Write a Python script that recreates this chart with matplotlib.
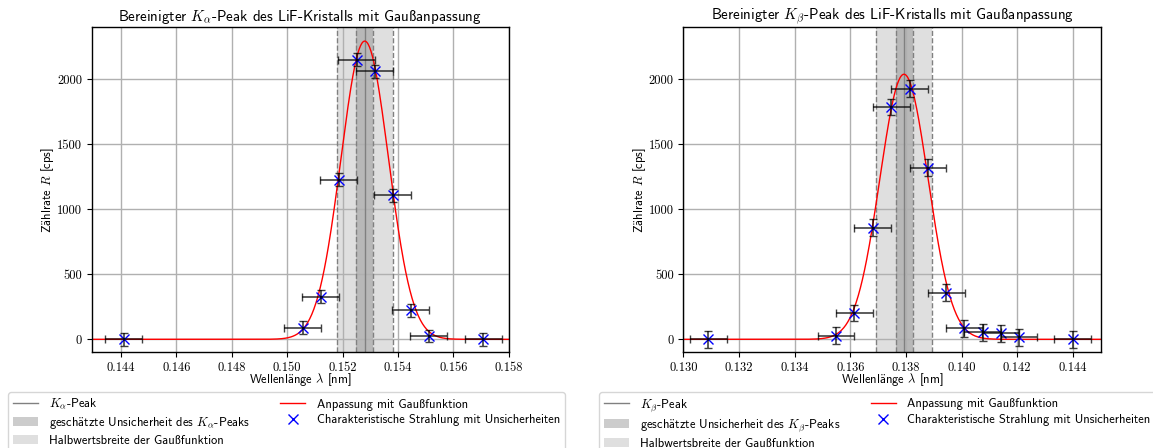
import numpy as np
import matplotlib
matplotlib.use("Agg")
import matplotlib.pyplot as plt

plt.rcParams.update({
    "font.family": ["cmss10", "DejaVu Sans"],
    "mathtext.fontset": "cm",
    "axes.unicode_minus": False,
    "axes.linewidth": 1.0,
})

# cmss10 is TeX-encoded: sharp s sits at 0xBC, umlauts go through mathtext
SS = chr(0xBC)
AE = r"$\ddot{\mathsf{a}}$"

# K-alpha peak (left)
ka_lam = [0.14410, 0.15056, 0.15121, 0.15186, 0.15251, 0.15316, 0.15381, 0.15446, 0.15511, 0.15708]
ka_rate = [0, 90, 329, 1230, 2152, 2062, 1109, 223, 25, 0]
ka_lam_err = [0.00066] * len(ka_lam)
ka_rate_err = [49] * len(ka_lam)
ka_fit = (2295, 0.15280, 0.000858)      # amplitude, centre, sigma
ka_peak = 0.15280
ka_peak_unc = (0.15249, 0.15311)
ka_fwhm = (0.15180, 0.15382)
ka_xlim = (0.14295, 0.158)
ka_xticks = [0.144, 0.146, 0.148, 0.150, 0.152, 0.154, 0.156, 0.158]

# K-beta peak (right)
kb_lam = [0.13089, 0.13549, 0.13615, 0.13681, 0.13747, 0.13813, 0.13879, 0.13945,
          0.14010, 0.14076, 0.14141, 0.14207, 0.14400]
kb_rate = [0, 28, 203, 860, 1788, 1929, 1320, 360, 85, 54, 46, 15, 0]
kb_lam_err = [0.00066] * len(kb_lam)
kb_rate_err = [64] * len(kb_lam)
kb_fit = (2040, 0.13793, 0.000866)
kb_peak = 0.13792
kb_peak_unc = (0.13763, 0.13825)
kb_fwhm = (0.13691, 0.13895)
kb_xlim = (0.130, 0.145)
kb_xticks = [0.130, 0.132, 0.134, 0.136, 0.138, 0.140, 0.142, 0.144]

YLIM = (-95, 2400)
YTICKS = [0, 500, 1000, 1500, 2000]


def gauss(x, a, mu, sig):
    return a * np.exp(-0.5 * ((x - mu) / sig) ** 2)


def panel(ax, lam, rate, lam_err, rate_err, fit, peak, unc, fwhm, xlim, xticks, sym):
    ax.axvline(peak, color="gray", lw=1.0, label=rf"$K_{sym}$-Peak")
    ax.axvspan(*unc, color="gray", alpha=0.4, lw=0,
               label="gesch" + AE + rf"tzte Unsicherheit des $K_{sym}$-Peaks")
    ax.axvspan(*fwhm, color="gray", alpha=0.25, lw=0,
               label="Halbwertsbreite der Gau" + SS + "funktion")
    for v in (*unc, *fwhm):
        ax.axvline(v, color="gray", ls="--", lw=1.0)
    xs = np.linspace(xlim[0], xlim[1], 600)
    ax.plot(xs, gauss(xs, *fit), color="red", lw=1.0,
            label="Anpassung mit Gau" + SS + "funktion")
    ax.plot(lam, rate, "x", color="blue", ms=7.5, mew=1.0,
            label="Charakteristische Strahlung mit Unsicherheiten")
    ax.errorbar(lam, rate, xerr=lam_err, yerr=rate_err, fmt="none", ecolor="black",
                elinewidth=1.2, capsize=3, alpha=0.75)
    ax.set_xlim(*xlim)
    ax.set_ylim(*YLIM)
    ax.set_xticks(xticks)
    ax.xaxis.set_major_formatter(matplotlib.ticker.FormatStrFormatter("%.3f"))
    ax.set_yticks(YTICKS)
    ax.grid(True, color="#b0b0b0", lw=1.0)
    ax.tick_params(labelsize=9, labelfontfamily="cmr10")
    ax.set_xlabel("Wellenl" + AE + r"nge $\lambda$ [nm]", fontsize=9, labelpad=-1.5)
    ax.set_ylabel("Z" + AE + r"hlrate $R$ [cps]", fontsize=9, labelpad=0.5)
    ax.set_title(rf"Bereinigter $K_{sym}$-Peak des LiF-Kristalls mit Gau{SS}anpassung",
                 fontsize=10.8, pad=5)


fig = plt.figure(figsize=(11.53, 4.48), dpi=100)
ax1 = fig.add_axes([0.0796, 0.215, 0.3617, 0.7237])
ax2 = fig.add_axes([0.5928, 0.215, 0.3617, 0.7237])

panel(ax1, ka_lam, ka_rate, ka_lam_err, ka_rate_err, ka_fit, ka_peak, ka_peak_unc,
      ka_fwhm, ka_xlim, ka_xticks, r"\alpha")
panel(ax2, kb_lam, kb_rate, kb_lam_err, kb_rate_err, kb_fit, kb_peak, kb_peak_unc,
      kb_fwhm, kb_xlim, kb_xticks, r"\beta")

for ax, x0 in ((ax1, 8 / 1153), (ax2, 599 / 1153)):
    ax.legend(loc="upper left", bbox_to_anchor=(x0, 1 - 392 / 448),
              bbox_transform=fig.transFigure, ncol=2, fontsize=9,
              borderaxespad=0, columnspacing=2.4, labelspacing=0.3,
              handletextpad=0.9)

fig.savefig("out.png", dpi=100)
